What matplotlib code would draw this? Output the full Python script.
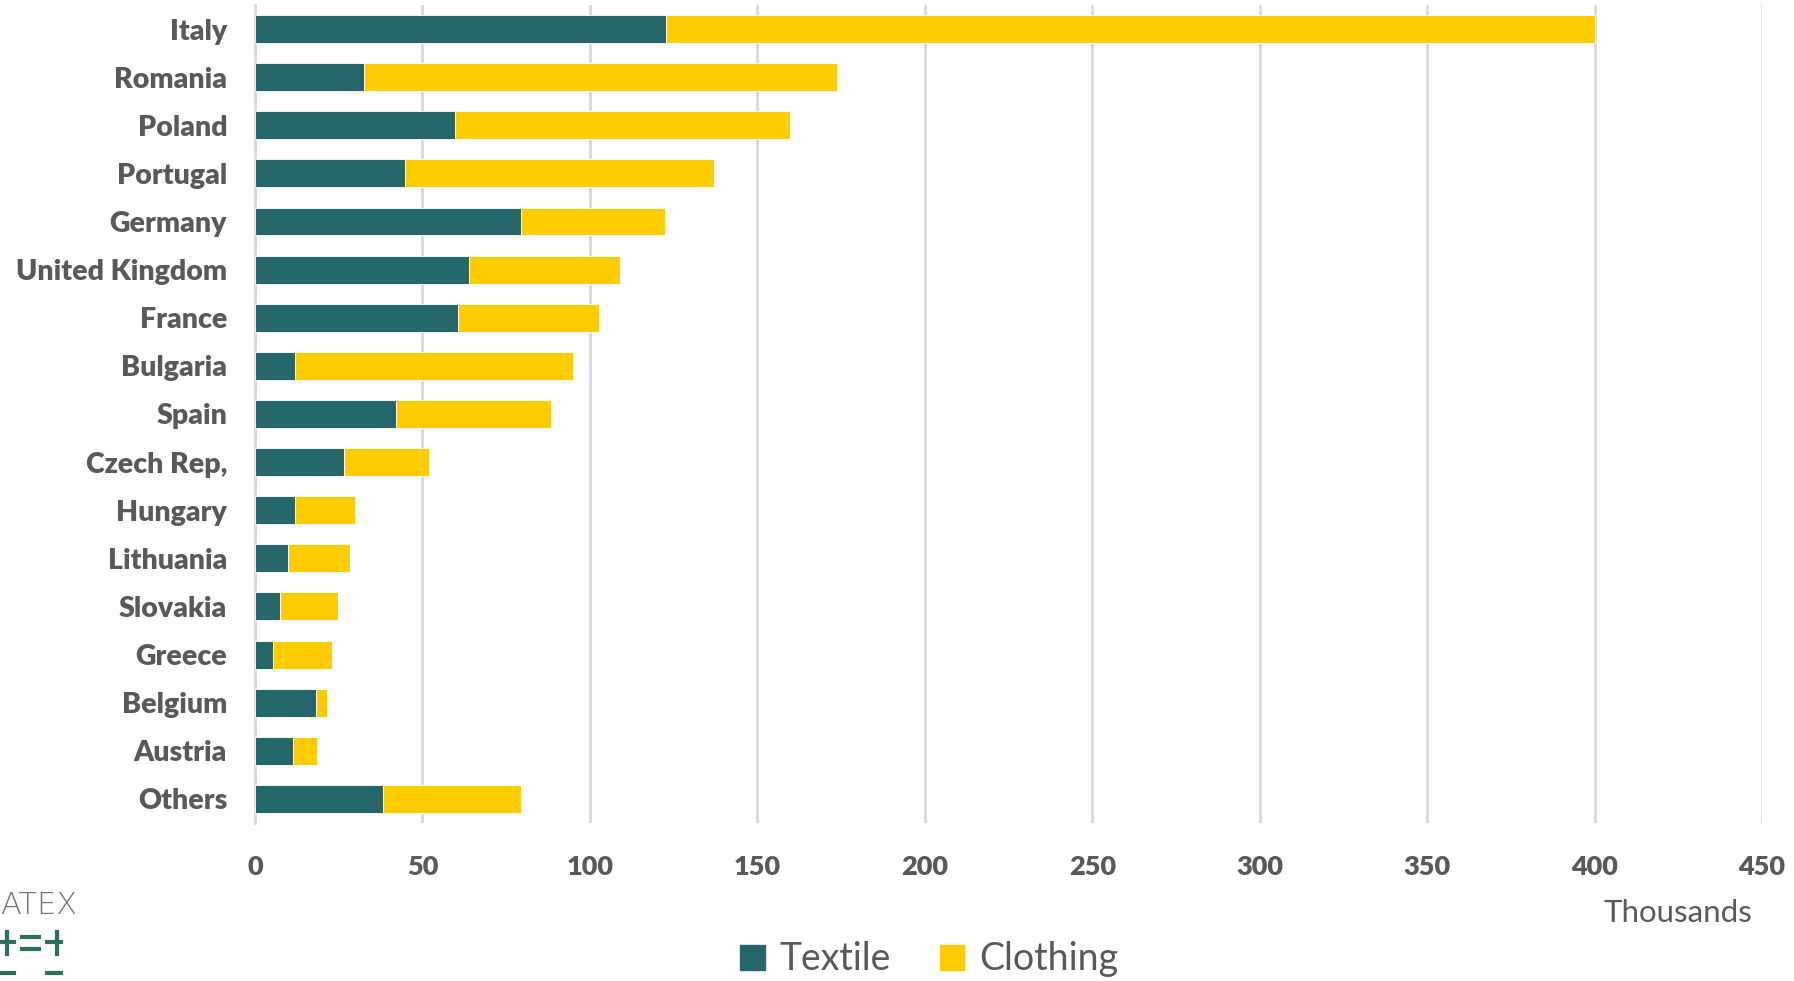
import matplotlib
matplotlib.use("Agg")
import matplotlib.pyplot as plt
from matplotlib.patches import Rectangle
from matplotlib.lines import Line2D

countries = ["Italy", "Romania", "Poland", "Portugal", "Germany", "United Kingdom",
             "France", "Bulgaria", "Spain", "Czech Rep,", "Hungary", "Lithuania",
             "Slovakia", "Greece", "Belgium", "Austria", "Others"]
textile = [122.7, 32.5, 59.8, 44.8, 79.3, 63.9, 60.5, 12.0, 42.0, 26.6, 12.0, 9.9,
           7.5, 5.5, 18.2, 11.3, 38.2]
clothing = [277.3, 141.4, 100.1, 92.2, 43.0, 45.1, 42.3, 83.0, 46.5, 25.3, 18.0, 18.5,
            17.4, 17.5, 3.3, 7.1, 41.1]
xticks = [0, 50, 100, 150, 200, 250, 300, 350, 400, 450]

TEAL = "#26676B"
GOLD = "#FFCC00"
GRAY = "#595959"
FONT = ["Lato", "DejaVu Sans"]
plt.rcParams['font.family'] = FONT

fig = plt.figure(figsize=(17.94, 9.81), dpi=100)
ax = fig.add_axes([0.1421, 0.1611, 0.8401, 0.8338])

y = list(range(len(countries)))
ax.barh(y, textile, height=0.58, color=TEAL, edgecolor="white", linewidth=0.6, zorder=3)
ax.barh(y, clothing, left=textile, height=0.58, color=GOLD, edgecolor="white", linewidth=0.6, zorder=3)

ax.set_ylim(len(countries) - 0.5, -0.5)
ax.set_xlim(0, 450)
ax.set_xticks(xticks)
ax.set_xticklabels([str(t) for t in xticks], fontsize=19.5, fontweight="heavy", color=GRAY)
ax.set_yticks(y)
ax.set_yticklabels(countries, fontsize=20.5, fontweight="heavy", color=GRAY)
ax.tick_params(axis="both", length=0)
ax.tick_params(axis="x", pad=23)
ax.tick_params(axis="y", pad=20)
ax.grid(axis="x", color="#D9D9D9", linewidth=2, zorder=0)
for s in ["top", "right", "bottom"]:
    ax.spines[s].set_visible(False)
ax.spines["left"].set_color("#D9D9D9")
ax.spines["left"].set_linewidth(2)

fig.text(0.977, 0.069, "Thousands", fontsize=22.5, color=GRAY, ha="right", va="center")

handles = [Rectangle((0, 0), 1, 1, color=TEAL), Rectangle((0, 0), 1, 1, color=GOLD)]
leg = fig.legend(handles, ["Textile", "Clothing"], loc="center", bbox_to_anchor=(0.518, 0.022),
                 ncol=2, frameon=False, fontsize=27, handlelength=0.65, handleheight=0.65,
                 handletextpad=0.4, columnspacing=1.3, borderaxespad=0)
for t in leg.get_texts():
    t.set_color(GRAY)

# partial logo at bottom-left
fig.text(0.0, 0.077, "ATEX", fontsize=22, color="#777777", ha="left", va="center",
         family=["DejaVu Sans"], fontweight="light")
for (x0, x1, yy) in [(0.0, 0.008, 0.04), (0.012, 0.022, 0.045), (0.012, 0.022, 0.033),
                     (0.026, 0.034, 0.04), (0.0, 0.008, 0.008), (0.026, 0.034, 0.008)]:
    fig.add_artist(Line2D([x0, x1], [yy, yy], transform=fig.transFigure, color="#2E6E5E", lw=3))
for xx in [0.004, 0.032]:
    fig.add_artist(Line2D([xx, xx], [0.028, 0.05], transform=fig.transFigure, color="#2E6E5E", lw=3))

fig.savefig("out.png", dpi=100)
